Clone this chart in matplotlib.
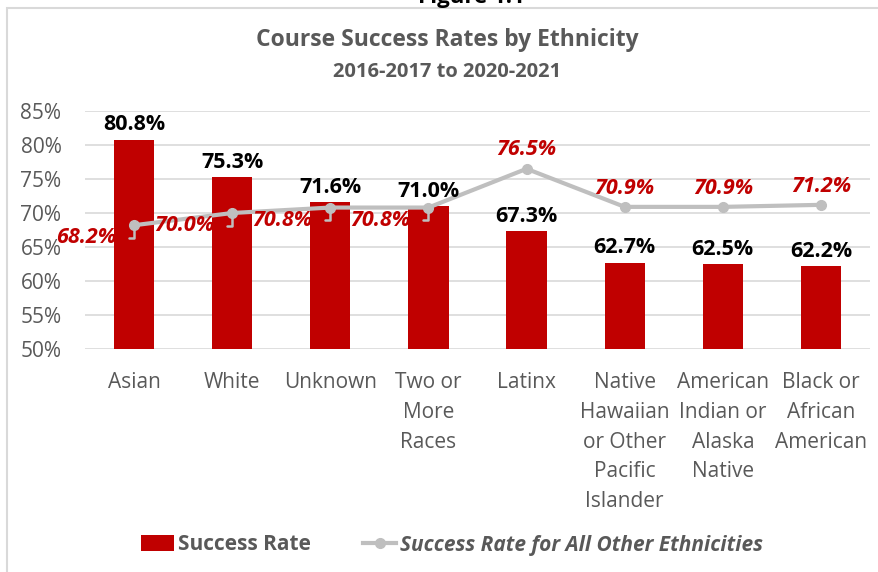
import matplotlib
matplotlib.use("Agg")
import matplotlib.pyplot as plt
from matplotlib.patches import Rectangle
import numpy as np

categories = ["Asian", "White", "Unknown", "Two or\nMore\nRaces", "Latinx",
              "Native\nHawaiian\nor Other\nPacific\nIslander",
              "American\nIndian or\nAlaska\nNative",
              "Black or\nAfrican\nAmerican"]
success_rate = [80.8, 75.3, 71.6, 71.0, 67.3, 62.7, 62.5, 62.2]
other_rate = [68.2, 70.0, 70.8, 70.8, 76.5, 70.9, 70.9, 71.2]
yticks = [50, 55, 60, 65, 70, 75, 80, 85]

plt.rcParams['font.family'] = ['Open Sans', 'DejaVu Sans']

RED = "#C00000"
GRAY_LINE = "#BFBFBF"
TXT = "#595959"

fig = plt.figure(figsize=(8.79, 5.72), dpi=100)
# chart border
fig.patches.append(Rectangle((7/879, -0.01), 1.0, 1 - 8/572 + 0.01, transform=fig.transFigure,
                             fill=False, edgecolor="#D9D9D9", linewidth=1.5))
fig.text(471/879, 1 - 3/572, "Figure 1.1", ha="center", va="baseline", fontsize=16,
         fontweight="bold", color="black")

ax = fig.add_axes([85/879, 1 - 349/572, 785/879, (349 - 111)/572])
x = np.arange(len(categories))
ax.bar(x, success_rate, width=0.41, color=RED, zorder=2, label="Success Rate")
ax.plot(x, other_rate, color=GRAY_LINE, lw=3, marker="o", ms=7, zorder=3,
        label="Success Rate for All Other Ethnicities")

ax.set_xlim(-0.5, len(categories) - 0.5)
ax.set_ylim(50, 85)
ax.set_yticks(yticks)
ax.set_yticklabels([f"{v}%" for v in yticks], fontsize=15, color=TXT)
ax.set_xticks(x)
ax.set_xticklabels(categories, fontsize=15, color=TXT, linespacing=1.55, va="top")
ax.tick_params(axis="both", length=0)
ax.tick_params(axis="x", pad=16.5)
ax.tick_params(axis="y", pad=17)
ax.grid(axis="y", color="#D9D9D9", lw=1.2, zorder=0)
for s in ax.spines.values():
    s.set_visible(False)

for xi, v in zip(x, success_rate):
    ax.annotate(f"{v:.1f}%", (xi, v), xytext=(0, 3), textcoords="offset points",
                ha="center", va="bottom", fontsize=15.5, fontweight="bold", color="black")

for i, (xi, v) in enumerate(zip(x, other_rate)):
    if i < 4:
        ax.annotate(f"{v:.1f}%", (xi, v), xytext=(-13, -9), textcoords="offset points",
                    ha="right", va="center", fontsize=15.5, fontweight="bold", style="italic",
                    color=RED,
                    arrowprops=dict(arrowstyle="-", color=GRAY_LINE, lw=1.8,
                                    connectionstyle="angle,angleA=0,angleB=90,rad=0",
                                    shrinkA=7, shrinkB=0, relpos=(1, 0.5)))
    else:
        ax.annotate(f"{v:.1f}%", (xi, v), xytext=(0, 6), textcoords="offset points",
                    ha="center", va="bottom", fontsize=15.5, fontweight="bold", style="italic",
                    color=RED)

fig.text(447/879, 1 - 40/572, "Course Success Rates by Ethnicity", ha="center", va="center",
         fontsize=16.5, fontweight="bold", color=TXT)
fig.text(447/879, 1 - 72/572, "2016-2017 to 2020-2021", ha="center", va="center",
         fontsize=14.5, fontweight="bold", color=TXT)

h, l = ax.get_legend_handles_labels()
order = [1, 0]
leg = fig.legend([h[i] for i in order], [l[i] for i in order], loc="center",
                 bbox_to_anchor=(452/879, 1 - 545/572), ncol=2,
                 frameon=False, fontsize=15, handlelength=1.6, handleheight=0.8,
                 columnspacing=2.5, handletextpad=0.2)
for t in leg.get_texts():
    t.set_color(TXT)
    t.set_fontweight("bold")
leg.get_texts()[1].set_style("italic")

fig.savefig("out.png", dpi=100)
